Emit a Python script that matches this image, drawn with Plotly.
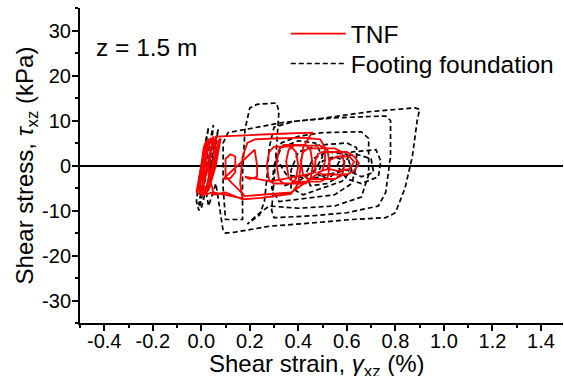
import plotly.graph_objects as go

# ---- data ----
# Footing foundation (black dashed): shear strain (%) and shear stress (kPa)
foot_x = [0.00, 0.02, 0.03, 0.02, -0.01, -0.02, -0.01, 0.01, 0.04, 0.05, 0.04, 0.01, -0.01, 0.00, 0.03,
          0.06, 0.07, 0.05, 0.02, 0.03, 0.06,
          0.09, 0.10, 0.14, 0.28, 0.45, 0.62, 0.76, 0.80, 0.84, 0.87, 0.89, 0.90, 0.88, 0.70, 0.50,
          0.33, 0.18, 0.11, 0.09, 0.09, 0.10,
          0.17, 0.17, 0.18, 0.20, 0.23, 0.31, 0.32, 0.31, 0.30, 0.29, 0.30, 0.45, 0.60, 0.73, 0.76,
          0.78, 0.78, 0.76, 0.55, 0.38, 0.30, 0.28, 0.27, 0.26, 0.24, 0.20, 0.19, 0.23,
          0.28, 0.40, 0.55, 0.66, 0.69, 0.69, 0.66, 0.50, 0.40, 0.33, 0.30, 0.29, 0.32,
          0.40, 0.55, 0.62, 0.64, 0.64, 0.60, 0.48, 0.40, 0.37, 0.37, 0.42,
          0.50, 0.58, 0.62, 0.60, 0.52, 0.46, 0.43, 0.45,
          0.52, 0.58, 0.59, 0.55, 0.50, 0.48, 0.52, 0.57,
          0.62, 0.72, 0.74, 0.73, 0.66, 0.60, 0.56, 0.58, 0.64, 0.70, 0.71, 0.66, 0.60,
          0.45, 0.35, 0.31, 0.33, 0.40, 0.47, 0.50, 0.47, 0.40, 0.34]
foot_y = [0.0, 5.0, 8.5, 6.0, -3.0, -8.0, -10.0, -5.0, 4.0, 9.0, 6.5, -2.0, -8.5, -9.5, -3.0,
          5.0, 8.0, 4.0, -6.0, -9.0, -4.0,
          -14.5, -15.0, -14.8, -13.5, -12.8, -12.0, -11.6, -10.5, -5.0, 2.0, 10.0, 12.5, 12.8, 12.0, 10.5,
          9.5, 8.0, 7.3, 5.0, -5.0, -12.0,
          -12.0, -2.0, 8.0, 12.8, 13.6, 13.9, 12.0, 4.0, -4.0, -10.0, -11.6, -11.2, -10.5, -9.0, -6.0,
          2.0, 10.0, 11.0, 10.6, 9.8, 8.5, 4.0, -3.0, -8.0, -11.0, -12.5, -13.0, -11.0,
          -9.0, -9.5, -9.0, -7.0, -2.0, 6.0, 7.5, 7.3, 6.5, 5.0, 0.0, -5.0, -8.0,
          -7.5, -6.5, -4.0, 0.0, 4.0, 5.0, 4.5, 3.0, -1.0, -5.0, -6.5,
          -5.0, -3.5, -1.0, 2.5, 3.0, 1.5, -2.0, -4.5,
          -4.0, -2.0, 1.0, 2.0, 1.0, -2.0, -3.0, -1.0,
          3.0, 3.5, 1.0, -2.5, -4.0, -3.0, 0.0, 2.0, 2.5, 1.5, -1.5, -2.5, -1.0,
          -3.0, -2.0, 1.5, 4.0, 5.5, 5.0, 2.0, -1.0, -3.5, -4.5]

# TNF (red solid)
tnf_x = [0.00, 0.01, 0.02, 0.01, -0.01, -0.02, -0.01, 0.02, 0.03, 0.02, 0.00, -0.01, 0.01, 0.04,
         0.05, 0.04, 0.01, 0.00, 0.02, 0.05, 0.06, 0.05, 0.02, 0.02, 0.05, 0.07, 0.08, 0.06, 0.03,
         0.00, 0.01, 0.03, 0.04, 0.02, -0.01, -0.02, 0.00, 0.04, 0.06, 0.04, 0.01, 0.02,
         0.04, 0.05, 0.10, 0.17, 0.25, 0.37, 0.40, 0.41, 0.42, 0.45, 0.46, 0.30, 0.15, 0.06, 0.04,
         0.03, 0.05,
         0.17, 0.16, 0.17, 0.19, 0.22, 0.30, 0.42, 0.49, 0.51, 0.51, 0.50, 0.45, 0.37, 0.25, 0.18,
         0.10, 0.10, 0.12, 0.14, 0.14, 0.12, 0.09,
         0.22, 0.23, 0.23, 0.20, 0.18,
         0.28, 0.27, 0.28, 0.30, 0.37, 0.39, 0.40, 0.39, 0.37, 0.30, 0.28,
         0.32, 0.31, 0.32, 0.34, 0.43, 0.45, 0.46, 0.45, 0.43, 0.34, 0.32,
         0.36, 0.35, 0.36, 0.38, 0.49, 0.52, 0.53, 0.52, 0.49, 0.38, 0.36,
         0.42, 0.41, 0.42, 0.44, 0.55, 0.58, 0.59, 0.58, 0.55, 0.44, 0.42,
         0.47, 0.47, 0.48, 0.50, 0.60, 0.63, 0.65, 0.63, 0.60, 0.50, 0.48,
         0.52, 0.53, 0.56, 0.61, 0.63, 0.61, 0.56, 0.53]
tnf_y = [0.0, 4.0, 5.5, 2.0, -4.0, -6.0, -3.0, 3.5, 6.0, 3.0, -3.0, -6.5, -4.0, 4.0,
         6.5, 3.0, -4.5, -6.5, -2.0, 5.0, 6.0, 1.0, -5.0, -6.5, -1.0, 5.5, 6.0, 0.0, -5.5,
         -6.8, -2.0, 4.5, 6.2, 2.0, -5.0, -6.0, 0.0, 5.8, 4.0, -2.0, -6.0, -6.5,
         -6.0, -6.5, -6.0, -7.5, -7.2, -6.3, -4.0, 0.0, 4.0, 6.8, 7.3, 7.0, 6.6, 6.4, 3.0,
         -2.0, -6.0,
         -7.3, -4.0, 2.0, 5.0, 5.8, 6.0, 6.2, 5.8, 4.0, 1.0, -1.0, -3.0, -6.0, -6.5, -6.8,
         -2.5, 1.5, 2.5, 2.0, -1.5, -2.8, -3.0,
         3.5, 0.0, -2.5, -3.0, -2.5,
         -3.5, 0.0, 3.0, 4.2, 4.2, 3.0, 0.0, -3.0, -4.0, -4.0, -3.5,
         -3.2, 0.5, 3.5, 4.6, 4.6, 3.5, 0.0, -3.0, -4.0, -4.0, -3.2,
         -2.8, 1.0, 3.5, 4.4, 4.4, 3.5, 0.0, -2.8, -3.6, -3.6, -2.8,
         -2.2, 1.0, 3.0, 3.8, 3.8, 3.0, 0.0, -2.2, -3.0, -3.0, -2.2,
         -1.5, 1.0, 2.5, 3.0, 3.0, 2.0, 0.5, -1.2, -2.0, -2.0, -1.5,
         -0.8, 1.2, 2.0, 2.0, 0.8, -0.8, -1.2, -0.8]

x_ticks = [-0.4, -0.2, 0.0, 0.2, 0.4, 0.6, 0.8, 1.0, 1.2, 1.4]
x_tick_text = ["-0.4", "-0.2", "0.0", "0.2", "0.4", "0.6", "0.8", "1.0", "1.2", "1.4"]
y_ticks = [-30, -20, -10, 0, 10, 20, 30]
y_tick_text = ["-30", "-20", "-10", "0", "10", "20", "30"]
x_range = [-0.5, 1.491]
y_range = [-35, 35]
x_title = "Shear strain, <i>γ</i><sub>xz</sub> (%)"
y_title = "Shear stress, <i>τ</i><sub>xz</sub> (kPa)"
depth_label = "z = 1.5 m"

FONT = "Liberation Sans, Arial, sans-serif"

fig = go.Figure()
fig.add_trace(go.Scatter(x=foot_x, y=foot_y, mode="lines", name="Footing foundation",
                         line=dict(color="black", width=1.7, dash="5px,3px"), legend="legend2"))
fig.add_trace(go.Scatter(x=tnf_x, y=tnf_y, mode="lines", name="TNF",
                         line=dict(color="#ff0000", width=1.8), legend="legend"))

axis_common = dict(showline=True, linecolor="black", linewidth=2, showgrid=False,
                   tickcolor="black", tickwidth=1.5, ticklen=6, automargin=False,
                   tickfont=dict(family=FONT, size=20, color="black"))

leg_common = dict(xanchor="left", yanchor="top", bgcolor="rgba(0,0,0,0)", borderwidth=0,
                  font=dict(family=FONT, size=24.5, color="black"), itemwidth=55)

fig.update_layout(
    width=564, height=376,
    margin=dict(l=80, r=1, t=8, b=53, autoexpand=False),
    paper_bgcolor="white", plot_bgcolor="white",
    font=dict(family=FONT, color="black"),
    showlegend=True,
    legend=dict(x=0.426, y=0.99, **leg_common),
    legend2=dict(x=0.426, y=0.895, **leg_common),
    xaxis=dict(range=x_range, tickmode="array", tickvals=x_ticks, ticktext=x_tick_text,
               ticks="outside", zeroline=False, ticklabelstandoff=-7,
               minor=dict(dtick=0.1, tick0=0, ticks="outside", ticklen=3, tickwidth=1.5, tickcolor="black"),
               **axis_common),
    yaxis=dict(range=y_range, tickmode="array", tickvals=y_ticks, ticktext=y_tick_text,
               ticks="outside", zeroline=True, zerolinecolor="black", zerolinewidth=2,
               ticklabelstandoff=-3,
               minor=dict(dtick=5, tick0=0, ticks="outside", ticklen=3, tickwidth=1.5, tickcolor="black"),
               title=dict(text=y_title, font=dict(family=FONT, size=24, color="black"), standoff=0),
               **axis_common),
    xaxis2=dict(range=x_range, overlaying="x", side="top", anchor="y", matches="x",
                tickmode="array", tickvals=x_ticks, showticklabels=False, ticks="inside",
                minor=dict(dtick=0.1, tick0=0, ticks="inside", ticklen=3, tickwidth=1.5, tickcolor="black"),
                showline=True, linecolor="black", linewidth=2, showgrid=False, zeroline=False,
                tickcolor="black", tickwidth=1.5, ticklen=6, automargin=False),
    yaxis2=dict(range=y_range, overlaying="y", side="right", anchor="x", matches="y",
                tickmode="array", tickvals=y_ticks, showticklabels=False, ticks="inside",
                minor=dict(dtick=5, tick0=0, ticks="inside", ticklen=3, tickwidth=1.5, tickcolor="black"),
                showline=True, linecolor="black", linewidth=2, showgrid=False, zeroline=False,
                tickcolor="black", tickwidth=1.5, ticklen=6, automargin=False),
    annotations=[
        dict(text=depth_label, xref="paper", yref="paper", x=0.03, y=0.876,
             xanchor="left", yanchor="middle", showarrow=False,
             font=dict(family=FONT, size=24.5, color="black")),
        dict(text=x_title, xref="paper", yref="paper", x=0.4907, y=-0.078,
             xanchor="center", yanchor="top", showarrow=False,
             font=dict(family=FONT, size=24, color="black")),
    ],
)

fig.write_html("out.html")
